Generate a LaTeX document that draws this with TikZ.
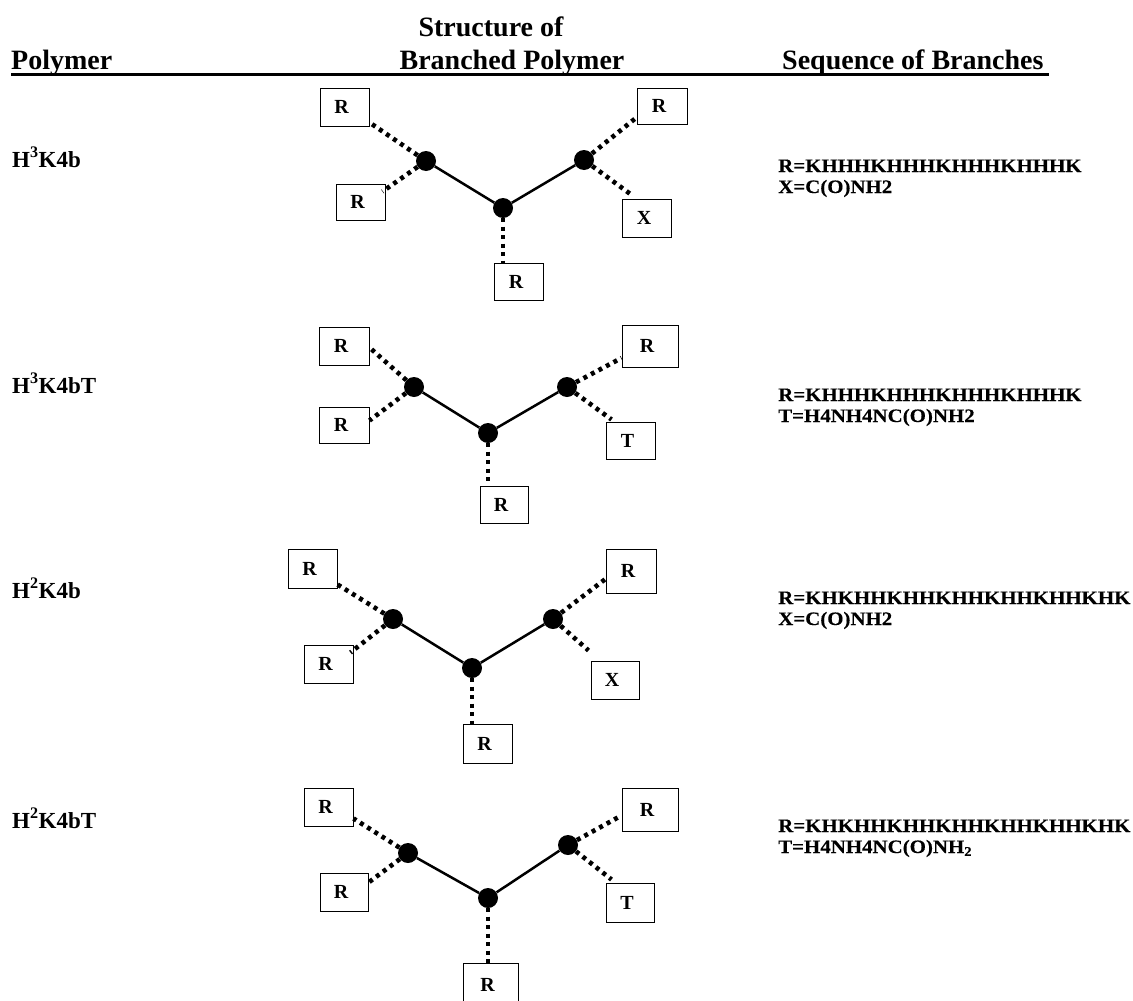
\documentclass[tikz,border=0pt]{standalone}
\usepackage{fontspec}
\setmainfont{Liberation Serif}
\newfontfamily\seqfont[FakeStretch=1.1,FakeBold=0.3]{Liberation Serif Bold}
\begin{document}
\begin{tikzpicture}[x=1pt,y=-1pt,
  seq/.style={font=\seqfont\fontsize{19}{21}\selectfont, inner sep=0, anchor=base west},
  hdr/.style={font=\bfseries\fontsize{28}{30}\selectfont, inner sep=0},
  pname/.style={font=\bfseries\fontsize{23}{25}\selectfont, inner sep=0, anchor=base west},
  sbox/.style={draw, line width=1pt, minimum width=49pt, minimum height=38pt, inner sep=0,
    font=\bfseries\fontsize{20}{22}\selectfont, execute at end node=\kern6pt},
  hub/.style={circle, fill=black, inner sep=0, minimum size=20pt},
  bond/.style={line width=2.5pt},
  link/.style={line width=4.6pt, dash pattern=on 4pt off 4.5pt}]
\useasboundingbox (0,0) rectangle (1133,1001);
\clip (0,0) rectangle (1133,1001);

% header
\node[hdr, anchor=base west] (h1) at (11,69) {Polymer};
\node[hdr, anchor=base] (h2a) at (491,36) {Structure of};
\node[hdr, anchor=base] (h2b) at (512,69) {Branched Polymer};
\node[hdr, anchor=base west] (h3) at (782,69) {Sequence of Branches};
\coordinate (ul1) at (11,74);
\coordinate (ul2) at (1049,74);
\draw[line width=3pt] (ul1) -- (ul2);

% polymer names
\node[pname] (n1) at (12,167) {H\textsuperscript{3}K4b};
\node[pname] (n2) at (12,393) {H\textsuperscript{3}K4bT};
\node[pname] (n3) at (12,598) {H\textsuperscript{2}K4b};
\node[pname] (n4) at (12,828) {H\textsuperscript{2}K4bT};

% sequences
\node[seq] (s1a) at (778,172) {R=KHHHKHHHKHHHKHHHK};
\node[seq] (s1b) at (778,193) {X=C(O)NH2};
\node[seq] (s2a) at (778,401) {R=KHHHKHHHKHHHKHHHK};
\node[seq] (s2b) at (778,422) {T=H4NH4NC(O)NH2};
\node[seq] (s3a) at (778,604) {R=KHKHHKHHKHHKHHKHHKHK};
\node[seq] (s3b) at (778,625) {X=C(O)NH2};
\node[seq] (s4a) at (778,832) {R=KHKHHKHHKHHKHHKHHKHK};
\node[seq] (s4b) at (778,853) {T=H4NH4NC(O)NH\textsubscript{2}};

% ---- diagram 1
\node[hub] (a-l) at (426,161) {};
\node[hub] (a-c) at (503,208) {};
\node[hub] (a-r) at (584,160) {};
\node[sbox] (a-tl) at (344.5,107) {R};
\node[sbox, minimum height=36pt] (a-ll) at (360.5,202) {R};
\node[sbox, minimum width=50pt, minimum height=36pt] (a-tr) at (662,106) {R};
\node[sbox] (a-x) at (647,218) {X};
\node[sbox, minimum height=37pt] (a-b) at (519,281.5) {R};
\draw[bond] (a-l) -- (a-c) -- (a-r);
\draw[link] (a-l) -- ([yshift=4pt]a-tl.south east);
\draw[link] (a-l) -- ([xshift=-3pt,yshift=-8pt]a-ll.north east);
\draw[link] (a-r) -- ([yshift=7pt]a-tr.south west);
\draw[link] (a-r) -- ([xshift=9pt,yshift=4pt]a-x.north west);
\draw[link] (a-c) -- (a-c |- a-b.north);

% ---- diagram 2
\node[hub] (b-l) at (414,387) {};
\node[hub] (b-c) at (488,433) {};
\node[hub] (b-r) at (567,387) {};
\node[sbox, minimum width=50pt] (b-tl) at (344,346) {R};
\node[sbox, minimum width=50pt, minimum height=36pt] (b-ll) at (344,425) {R};
\node[sbox, minimum width=56pt, minimum height=42pt] (b-tr) at (650,346) {R};
\node[sbox, minimum height=37pt] (b-t) at (630.5,440.5) {T};
\node[sbox, minimum width=48pt, minimum height=37pt] (b-b) at (504,504.5) {R};
\draw[bond] (b-l) -- (b-c) -- (b-r);
\draw[link] (b-l) -- ([yshift=18pt]b-tl.south east);
\draw[link] (b-l) -- ([yshift=-14pt]b-ll.north east);
\draw[link] (b-r) -- ([yshift=-12pt]b-tr.west);
\draw[link] (b-r) -- ([xshift=6pt,yshift=2pt]b-t.north west);
\draw[link] (b-c) -- (b-c |- b-b.north);

% ---- diagram 3
\node[hub] (c-l) at (393,619) {};
\node[hub] (c-c) at (472,668) {};
\node[hub] (c-r) at (553,619) {};
\node[sbox, minimum height=39pt] (c-tl) at (312.5,568.5) {R};
\node[sbox] (c-ll) at (328.5,664) {R};
\node[sbox, minimum width=50pt, minimum height=44pt] (c-tr) at (631,571) {R};
\node[sbox, minimum width=48pt] (c-x) at (615,680) {X};
\node[sbox, minimum height=39pt] (c-b) at (487.5,743.5) {R};
\draw[bond] (c-l) -- (c-c) -- (c-r);
\draw[link] (c-l) -- ([yshift=4pt]c-tl.south east);
\draw[link] (c-l) -- ([xshift=-3pt,yshift=-8pt]c-ll.north east);
\draw[link] (c-r) -- ([yshift=-8pt]c-tr.west);
\draw[link] (c-r) -- ([xshift=-2pt,yshift=10pt]c-x.north west);
\draw[link] (c-c) -- (c-c |- c-b.north);

% ---- diagram 4
\node[hub] (d-l) at (408,853) {};
\node[hub] (d-c) at (488,898) {};
\node[hub] (d-r) at (568,845) {};
\node[sbox] (d-tl) at (328.5,807) {R};
\node[sbox, minimum width=48pt] (d-ll) at (344,892) {R};
\node[sbox, minimum width=56pt, minimum height=43pt] (d-tr) at (650,809.5) {R};
\node[sbox, minimum width=48pt, minimum height=39pt] (d-t) at (630,902.5) {T};
\node[sbox, minimum width=55pt, minimum height=44pt] (d-b) at (490.5,985) {R};
\draw[bond] (d-l) -- (d-c) -- (d-r);
\draw[link] (d-l) -- ([yshift=8pt]d-tl.south east);
\draw[link] (d-l) -- ([yshift=-10pt]d-ll.north east);
\draw[link] (d-r) -- ([yshift=-6pt]d-tr.west);
\draw[link] (d-r) -- ([xshift=6pt,yshift=3pt]d-t.north west);
\draw[link] (d-c) -- (d-c |- d-b.north);
\end{tikzpicture}
\end{document}
